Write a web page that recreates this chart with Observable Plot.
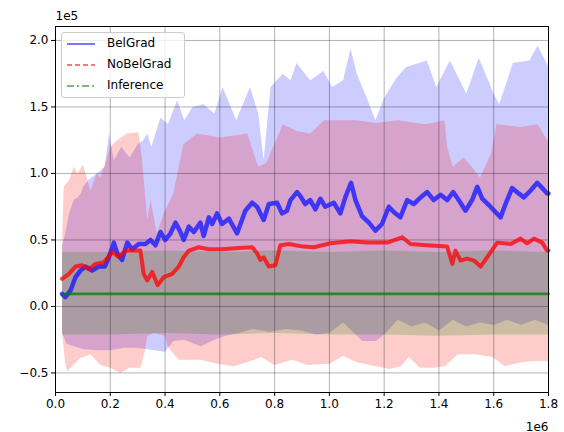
<!DOCTYPE html>
<html>
<head>
<meta charset="utf-8">
<script src="https://cdn.jsdelivr.net/npm/d3@7"></script>
<script src="https://cdn.jsdelivr.net/npm/@observablehq/plot@0.6"></script>
<style>
  html, body { margin: 0; padding: 0; background: #fff; }
  #wrap { position: relative; width: 564px; height: 432px; font-family: "DejaVu Sans", sans-serif; }
  #legend { position: absolute; left: 61px; top: 32px; width: 124px; height: 66px;
    background: rgba(255,255,255,0.8); border: 1px solid #cccccc; border-radius: 3px; box-sizing: border-box; }
  .row { position: absolute; left: 0; height: 14px; }
  .row svg { position: absolute; left: 5px; top: 0; }
  .row span { position: absolute; left: 45px; top: -1px; font-size: 12px; color: #000; white-space: nowrap; }
</style>
</head>
<body>
<div id="wrap"></div>
<script>
// x values in units of 1e6 steps, y values in units of 1e5
const seriesNames = ["BelGrad", "NoBelGrad", "Inference"];
const xTicks = [0, 0.2, 0.4, 0.6, 0.8, 1.0, 1.2, 1.4, 1.6, 1.8];
const yTicks = [-0.5, 0, 0.5, 1.0, 1.5, 2.0];

// BelGrad mean line
const belX = [0.024,0.036,0.055,0.073,0.091,0.11,0.134,0.158,0.18,0.195,0.213,0.225,0.243,0.262,0.28,0.304,0.328,0.347,0.365,0.383,0.401,0.42,0.438,0.456,0.468,0.487,0.505,0.529,0.541,0.56,0.572,0.59,0.608,0.633,0.663,0.693,0.718,0.736,0.76,0.779,0.809,0.827,0.845,0.858,0.882,0.894,0.912,0.93,0.949,0.967,0.985,1.016,1.04,1.058,1.079,1.095,1.119,1.144,1.168,1.192,1.217,1.235,1.259,1.284,1.308,1.333,1.357,1.381,1.406,1.43,1.452,1.472,1.497,1.521,1.54,1.558,1.588,1.625,1.643,1.667,1.691,1.71,1.734,1.759,1.777,1.795,1.8];
const belY = [0.095,0.07,0.12,0.22,0.27,0.30,0.27,0.30,0.30,0.37,0.48,0.40,0.35,0.48,0.43,0.47,0.47,0.50,0.46,0.56,0.50,0.55,0.63,0.56,0.50,0.60,0.56,0.63,0.53,0.67,0.62,0.70,0.62,0.66,0.55,0.72,0.78,0.75,0.65,0.77,0.78,0.70,0.72,0.80,0.86,0.83,0.77,0.80,0.73,0.81,0.75,0.78,0.70,0.82,0.93,0.80,0.68,0.63,0.57,0.62,0.75,0.71,0.67,0.80,0.77,0.82,0.86,0.80,0.84,0.80,0.86,0.80,0.72,0.80,0.90,0.81,0.75,0.67,0.77,0.89,0.85,0.82,0.87,0.93,0.89,0.85,0.85];

// NoBelGrad mean line
const noX = [0.024,0.049,0.073,0.097,0.122,0.146,0.176,0.207,0.231,0.255,0.28,0.31,0.322,0.335,0.353,0.373,0.395,0.426,0.45,0.468,0.487,0.523,0.56,0.608,0.669,0.718,0.736,0.748,0.76,0.779,0.803,0.821,0.852,0.876,0.906,0.943,1.004,1.077,1.138,1.211,1.266,1.296,1.357,1.43,1.449,1.46,1.479,1.503,1.528,1.552,1.576,1.613,1.662,1.698,1.722,1.747,1.777,1.795,1.8];
const noY = [0.207,0.245,0.30,0.31,0.28,0.32,0.33,0.41,0.37,0.42,0.42,0.42,0.245,0.195,0.26,0.16,0.22,0.245,0.30,0.37,0.42,0.445,0.43,0.43,0.44,0.445,0.40,0.35,0.37,0.30,0.31,0.46,0.47,0.46,0.45,0.445,0.475,0.49,0.48,0.48,0.52,0.47,0.46,0.45,0.32,0.42,0.345,0.36,0.345,0.30,0.37,0.48,0.47,0.51,0.475,0.51,0.48,0.42,0.42];

// Inference mean line
const infX = [0.024,0.04,0.2,0.4,0.6,0.8,1.0,1.2,1.4,1.6,1.8];
const infY = [0.085,0.095,0.095,0.095,0.095,0.095,0.095,0.095,0.095,0.095,0.095];

// BelGrad band
const belUpX = [0.024,0.03,0.05,0.066,0.08,0.093,0.10,0.12,0.15,0.18,0.195,0.213,0.24,0.27,0.30,0.32,0.335,0.35,0.383,0.41,0.444,0.47,0.50,0.54,0.58,0.61,0.66,0.71,0.74,0.76,0.785,0.83,0.858,0.88,0.93,0.978,1.01,1.05,1.077,1.10,1.14,1.168,1.20,1.245,1.28,1.356,1.39,1.44,1.50,1.545,1.60,1.62,1.67,1.73,1.76,1.8];
const belUpY = [0.45,0.50,0.70,0.80,0.82,0.85,0.90,0.95,1.00,1.05,1.30,1.10,1.20,1.12,1.22,1.25,1.30,1.20,1.42,1.37,1.55,1.40,1.50,1.52,1.45,1.65,1.40,1.65,1.45,1.10,1.65,1.75,1.70,1.83,1.70,1.77,1.65,1.70,1.94,1.75,1.55,1.40,1.57,1.72,1.80,1.85,1.65,1.85,1.60,1.87,1.60,1.52,1.83,1.85,1.96,1.80];
const belLoX = [0.024,0.04,0.1,0.15,0.2,0.25,0.30,0.33,0.36,0.40,0.43,0.47,0.53,0.58,0.62,0.67,0.72,0.78,0.84,0.90,0.95,1.0,1.05,1.09,1.12,1.17,1.20,1.25,1.30,1.35,1.40,1.45,1.50,1.55,1.60,1.65,1.70,1.75,1.8];
const belLoY = [-0.20,-0.28,-0.32,-0.33,-0.33,-0.31,-0.31,-0.32,-0.33,-0.34,-0.26,-0.25,-0.30,-0.25,-0.22,-0.20,-0.17,-0.19,-0.17,-0.18,-0.21,-0.20,-0.12,-0.20,-0.26,-0.26,-0.21,-0.10,-0.15,-0.12,-0.18,-0.10,-0.15,-0.12,-0.14,-0.10,-0.14,-0.10,-0.14];

// NoBelGrad band
const noUpX = [0.024,0.03,0.05,0.066,0.08,0.10,0.128,0.15,0.164,0.20,0.225,0.26,0.303,0.315,0.335,0.347,0.37,0.395,0.43,0.467,0.517,0.60,0.70,0.74,0.77,0.83,0.88,0.93,0.98,1.10,1.168,1.25,1.35,1.42,1.43,1.45,1.49,1.52,1.55,1.59,1.61,1.70,1.76,1.795,1.8];
const noUpY = [0.50,0.90,0.95,1.05,1.00,1.07,0.87,1.00,0.97,1.20,1.25,1.30,1.31,1.12,0.65,0.80,0.55,0.70,0.85,1.22,1.30,1.27,1.30,1.05,1.08,1.37,1.32,1.30,1.40,1.40,1.38,1.40,1.37,1.40,1.20,1.05,1.12,1.05,0.97,1.15,1.37,1.35,1.37,1.25,1.25];
const noLoX = [0.024,0.035,0.043,0.06,0.09,0.128,0.164,0.20,0.237,0.27,0.31,0.325,0.335,0.36,0.40,0.41,0.42,0.45,0.53,0.59,0.65,0.70,0.75,0.80,0.864,0.92,1.0,1.05,1.10,1.17,1.22,1.26,1.29,1.33,1.38,1.42,1.47,1.53,1.595,1.64,1.70,1.75,1.8];
const noLoY = [-0.20,-0.42,-0.49,-0.45,-0.39,-0.36,-0.44,-0.46,-0.50,-0.46,-0.46,-0.35,-0.22,-0.20,-0.22,-0.30,-0.33,-0.40,-0.40,-0.43,-0.45,-0.42,-0.38,-0.44,-0.40,-0.44,-0.43,-0.37,-0.42,-0.45,-0.47,-0.45,-0.38,-0.46,-0.46,-0.45,-0.36,-0.36,-0.38,-0.45,-0.42,-0.41,-0.41];

// Inference band
const infBandX = [0.024,0.2,0.4,0.6,0.8,1.0,1.2,1.4,1.6,1.8];
const infUpY = [0.41,0.41,0.42,0.41,0.42,0.41,0.42,0.41,0.42,0.41];
const infLoY = [-0.21,-0.21,-0.20,-0.21,-0.20,-0.21,-0.21,-0.22,-0.21,-0.21];

const pts = (xs, ys) => xs.map((x, i) => ({x, y: ys[i]}));
const poly = (ux, uy, lx, ly) => pts(ux, uy).concat(pts(lx, ly).reverse());

const belBand = poly(belUpX, belUpY, belLoX, belLoY);
const noBand = poly(noUpX, noUpY, noLoX, noLoY);
const infBand = poly(infBandX, infUpY, infBandX, infLoY);

const fmt = d => (d < 0 ? "\u2212" : "") + Math.abs(d).toFixed(1);

const chart = Plot.plot({
  width: 564,
  height: 432,
  marginLeft: 55,
  marginRight: 16,
  marginTop: 26,
  marginBottom: 40,
  style: {fontFamily: "DejaVu Sans, sans-serif", fontSize: "12px", color: "#000", background: "#fff"},
  x: {domain: [0, 1.8], label: null},
  y: {domain: [-0.647, 2.105], label: null},
  marks: [
    Plot.line(belBand, {x: "x", y: "y", fill: "blue", fillOpacity: 0.2, stroke: "none", curve: "linear-closed"}),
    Plot.line(noBand, {x: "x", y: "y", fill: "red", fillOpacity: 0.2, stroke: "none", curve: "linear-closed"}),
    Plot.line(infBand, {x: "x", y: "y", fill: "green", fillOpacity: 0.2, stroke: "none", curve: "linear-closed"}),
    Plot.gridX(xTicks, {stroke: "#000", strokeOpacity: 0.3, strokeWidth: 1}),
    Plot.gridY(yTicks, {stroke: "#000", strokeOpacity: 0.3, strokeWidth: 1}),
    Plot.line(pts(belX, belY), {x: "x", y: "y", stroke: "#1a1aff", strokeOpacity: 0.8, strokeWidth: 4.5}),
    Plot.line(pts(noX, noY), {x: "x", y: "y", stroke: "#ff0000", strokeOpacity: 0.75, strokeWidth: 4}),
    Plot.line(pts(infX, infY), {x: "x", y: "y", stroke: "#008000", strokeOpacity: 0.75, strokeWidth: 2.8}),
    Plot.frame({stroke: "#000", strokeWidth: 1}),
    Plot.axisX({ticks: xTicks, tickFormat: d => d.toFixed(1), tickSize: 4, tickPadding: 3, fontSize: 12, label: null}),
    Plot.axisY({ticks: yTicks, tickFormat: fmt, tickSize: 4, tickPadding: 3, fontSize: 12, label: null}),
    Plot.text(["1e5"], {frameAnchor: "top-left", textAnchor: "start", dy: -15, fontSize: 12, fill: "#000"}),
    Plot.text(["1e6"], {frameAnchor: "bottom-right", textAnchor: "end", dy: 38, fontSize: 12, fill: "#000"})
  ]
});

const wrap = document.getElementById("wrap");
wrap.appendChild(chart);

const legend = document.createElement("div");
legend.id = "legend";
const samples = [
  {color: "#4d4dff", dash: null},
  {color: "#ff4d4d", dash: "5,3"},
  {color: "#4da64d", dash: "7,3,2,3"}
];
seriesNames.forEach((name, i) => {
  const row = document.createElement("div");
  row.className = "row";
  row.style.top = (4 + i * 21) + "px";
  row.style.width = "100%";
  const s = samples[i];
  row.innerHTML = `<svg width="30" height="14"><line x1="0" x2="28" y1="7" y2="7" stroke="${s.color}" stroke-width="1.5" ${s.dash ? `stroke-dasharray="${s.dash}"` : ""}/></svg><span>${name}</span>`;
  legend.appendChild(row);
});
wrap.appendChild(legend);
</script>
</body>
</html>
